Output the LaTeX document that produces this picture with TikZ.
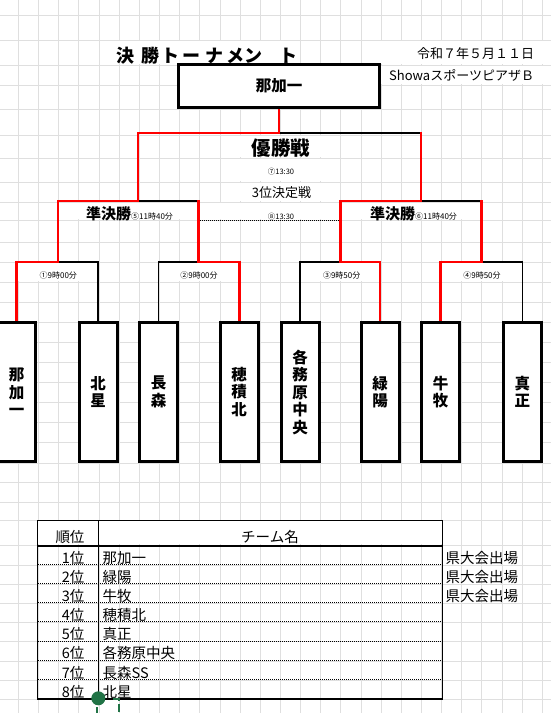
\documentclass[tikz,border=0pt]{standalone}
\usepackage{fontspec}
\setmainfont{Noto Sans CJK JP}
\usetikzlibrary{calc}
\pgfdeclarelayer{gridlayer}
\pgfdeclarelayer{linelayer}
\pgfsetlayers{gridlayer,linelayer,main}
\definecolor{xlgreen}{RGB}{33,115,70}
\tikzset{
  gridline/.style={gray!25, line width=1pt},
  cover/.style={fill=white, draw=none},
  win/.style={red, line width=2.6pt, line cap=rect},
  lose/.style={black, line width=1.2pt, line cap=rect},
  team/.style={draw, line width=3pt, fill=white, minimum width=38pt, minimum height=139pt,
    inner sep=0pt, align=center, font=\fontsize{15.5}{17.5}\selectfont\bfseries},
  champbox/.style={draw, line width=3pt, fill=white, minimum width=201pt, minimum height=43pt,
    inner sep=0pt, font=\fontsize{15.5}{17}\selectfont\bfseries},
  tiny/.style={inner sep=0pt, font=\fontsize{7.5}{8}\selectfont},
  small/.style={inner sep=0pt, font=\fontsize{8}{9}\selectfont},
  mid/.style={inner sep=0pt, font=\fontsize{13}{14}\selectfont},
  tab/.style={inner sep=0pt, font=\fontsize{14.5}{15}\selectfont},
}
\begin{document}
\begin{tikzpicture}[x=1pt,y=-1pt]
\useasboundingbox (0,0) rectangle (551,713);
\begin{pgfonlayer}{gridlayer}
  \fill[white] (0,0) rectangle (551,713);
  \foreach \k in {0,...,26} \draw[gridline] ({18.5+20.15*\k},0) -- ++(0,713);
  \foreach \y in {15,40,65,85,109,135,158,182,202,220,242,262,282,302,322,342,362,382,402,422,442,463,482,502,520,545,565,584,603,622,641,661,680,699}
    \draw[gridline] (0,\y) -- (551,\y);
  % merged cells
  \path[cover] (100,40.6) rectangle (299,64.4);
  \path[cover] (381,40.6) rectangle (551,64.4);
  \path[cover] (381,65.6) rectangle (551,84.4);
  \path[cover] (220.6,135.6) rectangle (340.4,157.4);
  \path[cover] (220.6,158.6) rectangle (340.4,181.4);
  \path[cover] (220.6,182.6) rectangle (340.4,201.4);
  \path[cover] (199,202.6) rectangle (339,219.4);
  \path[cover] (58,202.6) rectangle (197,219.4);
  \path[cover] (341,202.6) rectangle (481,219.4);
  \path[cover] (17.5,262.6) rectangle (98.5,281.4);
  \path[cover] (159.5,262.6) rectangle (238.5,281.4);
  \path[cover] (300.5,262.6) rectangle (379.5,281.4);
  \path[cover] (441.5,262.6) rectangle (521.5,281.4);
  \path[cover] (38,521.4) rectangle (441.6,544.4);
\end{pgfonlayer}

% title and header texts
\node[inner sep=0pt, anchor=base west, font=\fontsize{18}{18}\selectfont\bfseries] (title) at (116,62.3)
  {決\kern7.8pt 勝\kern1.2pt ト\kern3.7pt ー\kern4.5pt ナ\kern2.8pt メ\kern0.3pt ン\kern17pt ト};
\node[inner sep=0pt, anchor=west, font=\fontsize{13}{14}\selectfont] (date) at (417,54) {令和７年５月１１日};
\node[inner sep=0pt, anchor=west, font=\fontsize{13}{14}\selectfont] (venue) at (389,75) {ShowaスポーツピアザＢ};

% champion and teams
\node[champbox] (champ) at (279,86) {那加一};
\node[team] (t1) at (16.7,392) {那\\加\\一};
\node[team] (t2) at (98,392) {北\\星};
\node[team] (t3) at (158.5,392) {長\\森};
\node[team] (t4) at (239.2,392) {穂\\積\\北};
\node[team] (t5) at (300,392) {各\\務\\原\\中\\央};
\node[team] (t6) at (380,392) {緑\\陽};
\node[team] (t7) at (440.7,392) {牛\\牧};
\node[team] (t8) at (522.4,392) {真\\正};

\coordinate (m1) at (57.8,262);
\coordinate (m2) at (198.2,262);
\coordinate (m3) at (340.2,262);
\coordinate (m4) at (481.2,262);
\coordinate (s1) at (138,201);
\coordinate (s2) at (421,201);
\coordinate (f) at (279,133);
\coordinate (d1) at (199.5,220.7);
\coordinate (d2) at (338.5,220.7);

\begin{pgfonlayer}{linelayer}
  \draw[lose] (t2.north) |- (m1);
  \draw[lose] (t3.north) |- (m2);
  \draw[lose] (t5.north) |- (m3);
  \draw[lose] (t8.north) |- (m4);
  \draw[lose] (s1) -| (m2);
  \draw[lose] (s2) -| (m4);
  \draw[lose] (f) -| (s2);
  \draw[win] (t1.north) |- (m1);
  \draw[win] (t4.north) |- (m2);
  \draw[win] (t6.north) |- (m3);
  \draw[win] (t7.north) |- (m4);
  \draw[win] (m1) |- (s1);
  \draw[win] (m2) -- (m2 |- s1);
  \draw[win] (m3) |- (s2);
  \draw[win] (m4) -- (m4 |- s2);
  \draw[win] (s1) |- (f) -- (champ.south);
  \draw[win] (s2) -- (s2 |- f);
  \draw[black, line width=0.8pt, dash pattern=on 1pt off 1pt] (d1) -- (d2);
\end{pgfonlayer}

% match texts
\node[inner sep=0pt, font=\fontsize{19.5}{20}\selectfont\bfseries] (fin) at (281,148) {優勝戦};
\node[tiny] (fintime) at (281,171.5) {⑦13:30};
\node[mid] (third) at (281.5,193) {3位決定戦};
\node[tiny] (thirdtime) at (281,216.5) {⑧13:30};
\node[inner sep=0pt, anchor=base west] (sf1) at (86,219.5)
  {{\fontsize{15}{16}\selectfont\bfseries 準決勝}{\fontsize{8}{9}\selectfont ⑤11時40分}};
\node[inner sep=0pt, anchor=base west] (sf2) at (370,219.5)
  {{\fontsize{15}{16}\selectfont\bfseries 準決勝}{\fontsize{8}{9}\selectfont ⑥11時40分}};
\node[small] (r1) at (58.3,275) {①9時00分};
\node[small] (r2) at (199,275) {②9時00分};
\node[small] (r3) at (341.7,275) {③9時50分};
\node[small] (r4) at (482,275) {④9時50分};

% results table
\draw[line width=1.5pt] (37.3,520.7) rectangle (442.3,699);
\draw[line width=1.3pt] (98.3,520.7) -- (98.3,699);
\draw[line width=2pt] (37.3,546) -- (442.3,546);
\foreach \y in {564.5,583.6,602.7,621.8,641,660.2,679.6}
  \draw[line width=0.7pt, dash pattern=on 1pt off 1pt] (38,\y) -- (441.6,\y);
\node[tab] (hrank) at (70,536.7) {順位};
\node[tab] (hname) at (270,536.7) {チーム名};
\foreach \i/\r/\n in {0/1位/那加一,1/2位/緑陽,2/3位/牛牧,3/4位/穂積北,4/5位/真正,5/6位/各務原中央,6/7位/長森SS,7/8位/北星}{
  \node[tab, anchor=east] (rank\i) at (84.5,{557.7+19.15*\i}) {\r};
  \node[tab, anchor=west] (name\i) at (102.5,{557.7+19.15*\i}) {\n};
}
\foreach \i in {0,1,2}
  \node[tab, anchor=west] (note\i) at (445.5,{557.7+19.15*\i}) {県大会出場};

% selection marker
\fill[xlgreen] (98.3,698.3) circle (7pt);
\draw[xlgreen, line width=2pt] (96.8,707) -- (96.8,713);
\draw[xlgreen, line width=2pt, dash pattern=on 8pt off 3pt] (113,699.2) -- (119.3,699.2) -- (119.3,713);
\end{tikzpicture}
\end{document}
